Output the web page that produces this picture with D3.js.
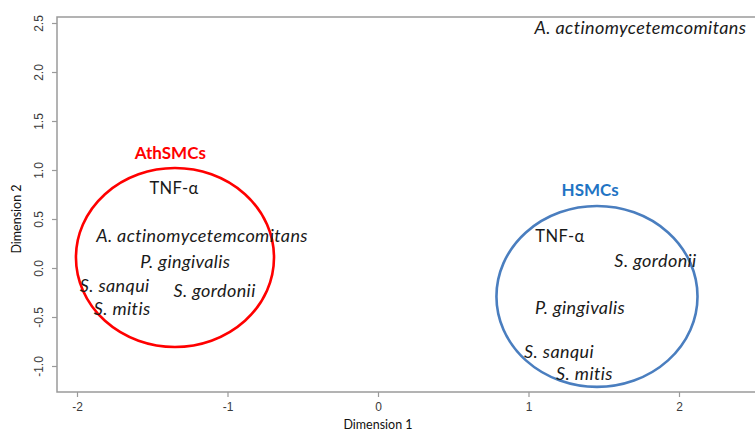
<!DOCTYPE html>
<html>
<head>
<meta charset="utf-8">
<script src="https://cdn.jsdelivr.net/npm/d3@7"></script>
<style>
  html, body { margin: 0; padding: 0; background: #fff; }
  svg { display: block; }
</style>
</head>
<body>
<svg id="chart" width="755" height="431"></svg>
<script>
// MDS coordinates of the stimuli for each cell type
const labelNames = ["TNF-α", "A. actinomycetemcomitans", "P. gingivalis", "S. sanqui", "S. gordonii", "S. mitis",
                    "TNF-α", "S. gordonii", "P. gingivalis", "S. sanqui", "S. mitis",
                    "A. actinomycetemcomitans"];
const labelDim1 = [-1.355, -1.169, -1.28, -1.75, -1.086, -1.70,
                   1.209, 1.844, 1.342, 1.203, 1.372,
                   1.744];
const labelDim2 = [0.816, 0.337, 0.07, -0.17, -0.22, -0.41,
                   0.327, 0.082, -0.40, -0.85, -1.07,
                   2.46];
const labelItalic = [false, true, true, true, true, true,
                     false, true, true, true, true,
                     true];

// Cluster outlines (centre, radii in data units) and their titles
const groupNames = ["AthSMCs", "HSMCs"];
const groupCx = [-1.349, 1.455];
const groupCy = [0.107, -0.29];
const groupRx = [0.658, 0.668];
const groupRy = [0.913, 0.923];
const groupTitleX = [-1.38, 1.41];
const groupTitleY = [1.18, 0.80];
const groupStroke = ["#ff0000", "#4a7ebf"];
const groupTitleColor = ["#ff0000", "#1f74c4"];

// Axis ticks
const xTicks = [-2, -1, 0, 1, 2];
const yTicks = [-1.0, -0.5, 0.0, 0.5, 1.0, 1.5, 2.0, 2.5];

const svg = d3.select("#chart");
const plotLeft = 57, plotTop = 17, plotBottom = 392, plotRight = 760;

const x = d3.scaleLinear().domain([-2, 2]).range([77, 679]);
const y = d3.scaleLinear().domain([-1, 2.5]).range([366, 23]);

const axisColor = "#9a9a9a";
const tickFont = "'Liberation Sans', Arial, sans-serif";
const textFont = "Lato, 'Open Sans', sans-serif";

// Bottom axis
const xAxis = svg.append("g")
  .attr("transform", `translate(0,${plotBottom})`)
  .call(d3.axisBottom(x).tickValues(xTicks).tickSizeOuter(0).tickSize(5).tickPadding(5)
        .tickFormat(d => String(d)));
xAxis.select(".domain").remove();
xAxis.selectAll(".tick line").attr("stroke", axisColor).attr("stroke-width", 1.2);
xAxis.selectAll(".tick text").attr("fill", "#3a3a3a")
  .style("font-family", tickFont).style("font-size", "12px");

// Left axis with rotated labels
const yAxis = svg.append("g")
  .attr("transform", `translate(${plotLeft},0)`)
  .call(d3.axisLeft(y).tickValues(yTicks).tickSizeOuter(0).tickSize(5)
        .tickFormat(d => d.toFixed(1)));
yAxis.select(".domain").remove();
yAxis.selectAll(".tick line").attr("stroke", axisColor).attr("stroke-width", 1.2);
yAxis.selectAll(".tick text")
  .attr("x", null).attr("dy", null)
  .attr("text-anchor", "middle")
  .attr("transform", "translate(-18,0) rotate(-90)")
  .attr("dominant-baseline", "central")
  .attr("fill", "#3a3a3a")
  .style("font-family", tickFont).style("font-size", "12px");

// Plot frame
svg.append("path")
  .attr("d", `M${plotRight},${plotTop}H${plotLeft}V${plotBottom}H${plotRight}`)
  .attr("fill", "none")
  .attr("stroke", axisColor)
  .attr("stroke-width", 1.5);

// Axis titles
svg.append("text")
  .attr("x", x(0)).attr("y", 429)
  .attr("text-anchor", "middle")
  .style("font-family", textFont).style("font-size", "12.5px")
  .attr("fill", "#111")
  .text("Dimension 1");
svg.append("text")
  .attr("transform", `translate(21,${y(0.5)}) rotate(-90)`)
  .attr("text-anchor", "middle")
  .style("font-family", textFont).style("font-size", "12.5px")
  .attr("fill", "#111")
  .text("Dimension 2");

// Cluster ellipses
const groups = groupNames.map((name, i) => ({
  name, cx: groupCx[i], cy: groupCy[i], rx: groupRx[i], ry: groupRy[i],
  tx: groupTitleX[i], ty: groupTitleY[i], stroke: groupStroke[i], color: groupTitleColor[i]
}));

svg.append("g").selectAll("ellipse")
  .data(groups).join("ellipse")
  .attr("cx", d => x(d.cx))
  .attr("cy", d => y(d.cy))
  .attr("rx", d => x(d.cx + d.rx) - x(d.cx))
  .attr("ry", d => y(d.cy) - y(d.cy + d.ry))
  .attr("fill", "none")
  .attr("stroke", d => d.stroke)
  .attr("stroke-width", 2.6);

svg.append("g").selectAll("text")
  .data(groups).join("text")
  .attr("x", d => x(d.tx))
  .attr("y", d => y(d.ty))
  .attr("text-anchor", "middle")
  .attr("dominant-baseline", "central")
  .attr("fill", d => d.color)
  .style("font-family", textFont).style("font-size", "17px").style("font-weight", "bold")
  .text(d => d.name);

// Stimulus labels
const labels = labelNames.map((name, i) => ({
  name, d1: labelDim1[i], d2: labelDim2[i], italic: labelItalic[i]
}));

svg.append("g").selectAll("text")
  .data(labels).join("text")
  .attr("x", d => x(d.d1))
  .attr("y", d => y(d.d2))
  .attr("text-anchor", "middle")
  .attr("dominant-baseline", "central")
  .attr("fill", "#1a1a1a")
  .style("font-family", textFont)
  .style("font-style", d => d.italic ? "italic" : "normal")
  .style("font-size", d => d.italic ? "18px" : "16.5px")
  .style("letter-spacing", "0.4px")
  .text(d => d.name);
</script>
</body>
</html>
